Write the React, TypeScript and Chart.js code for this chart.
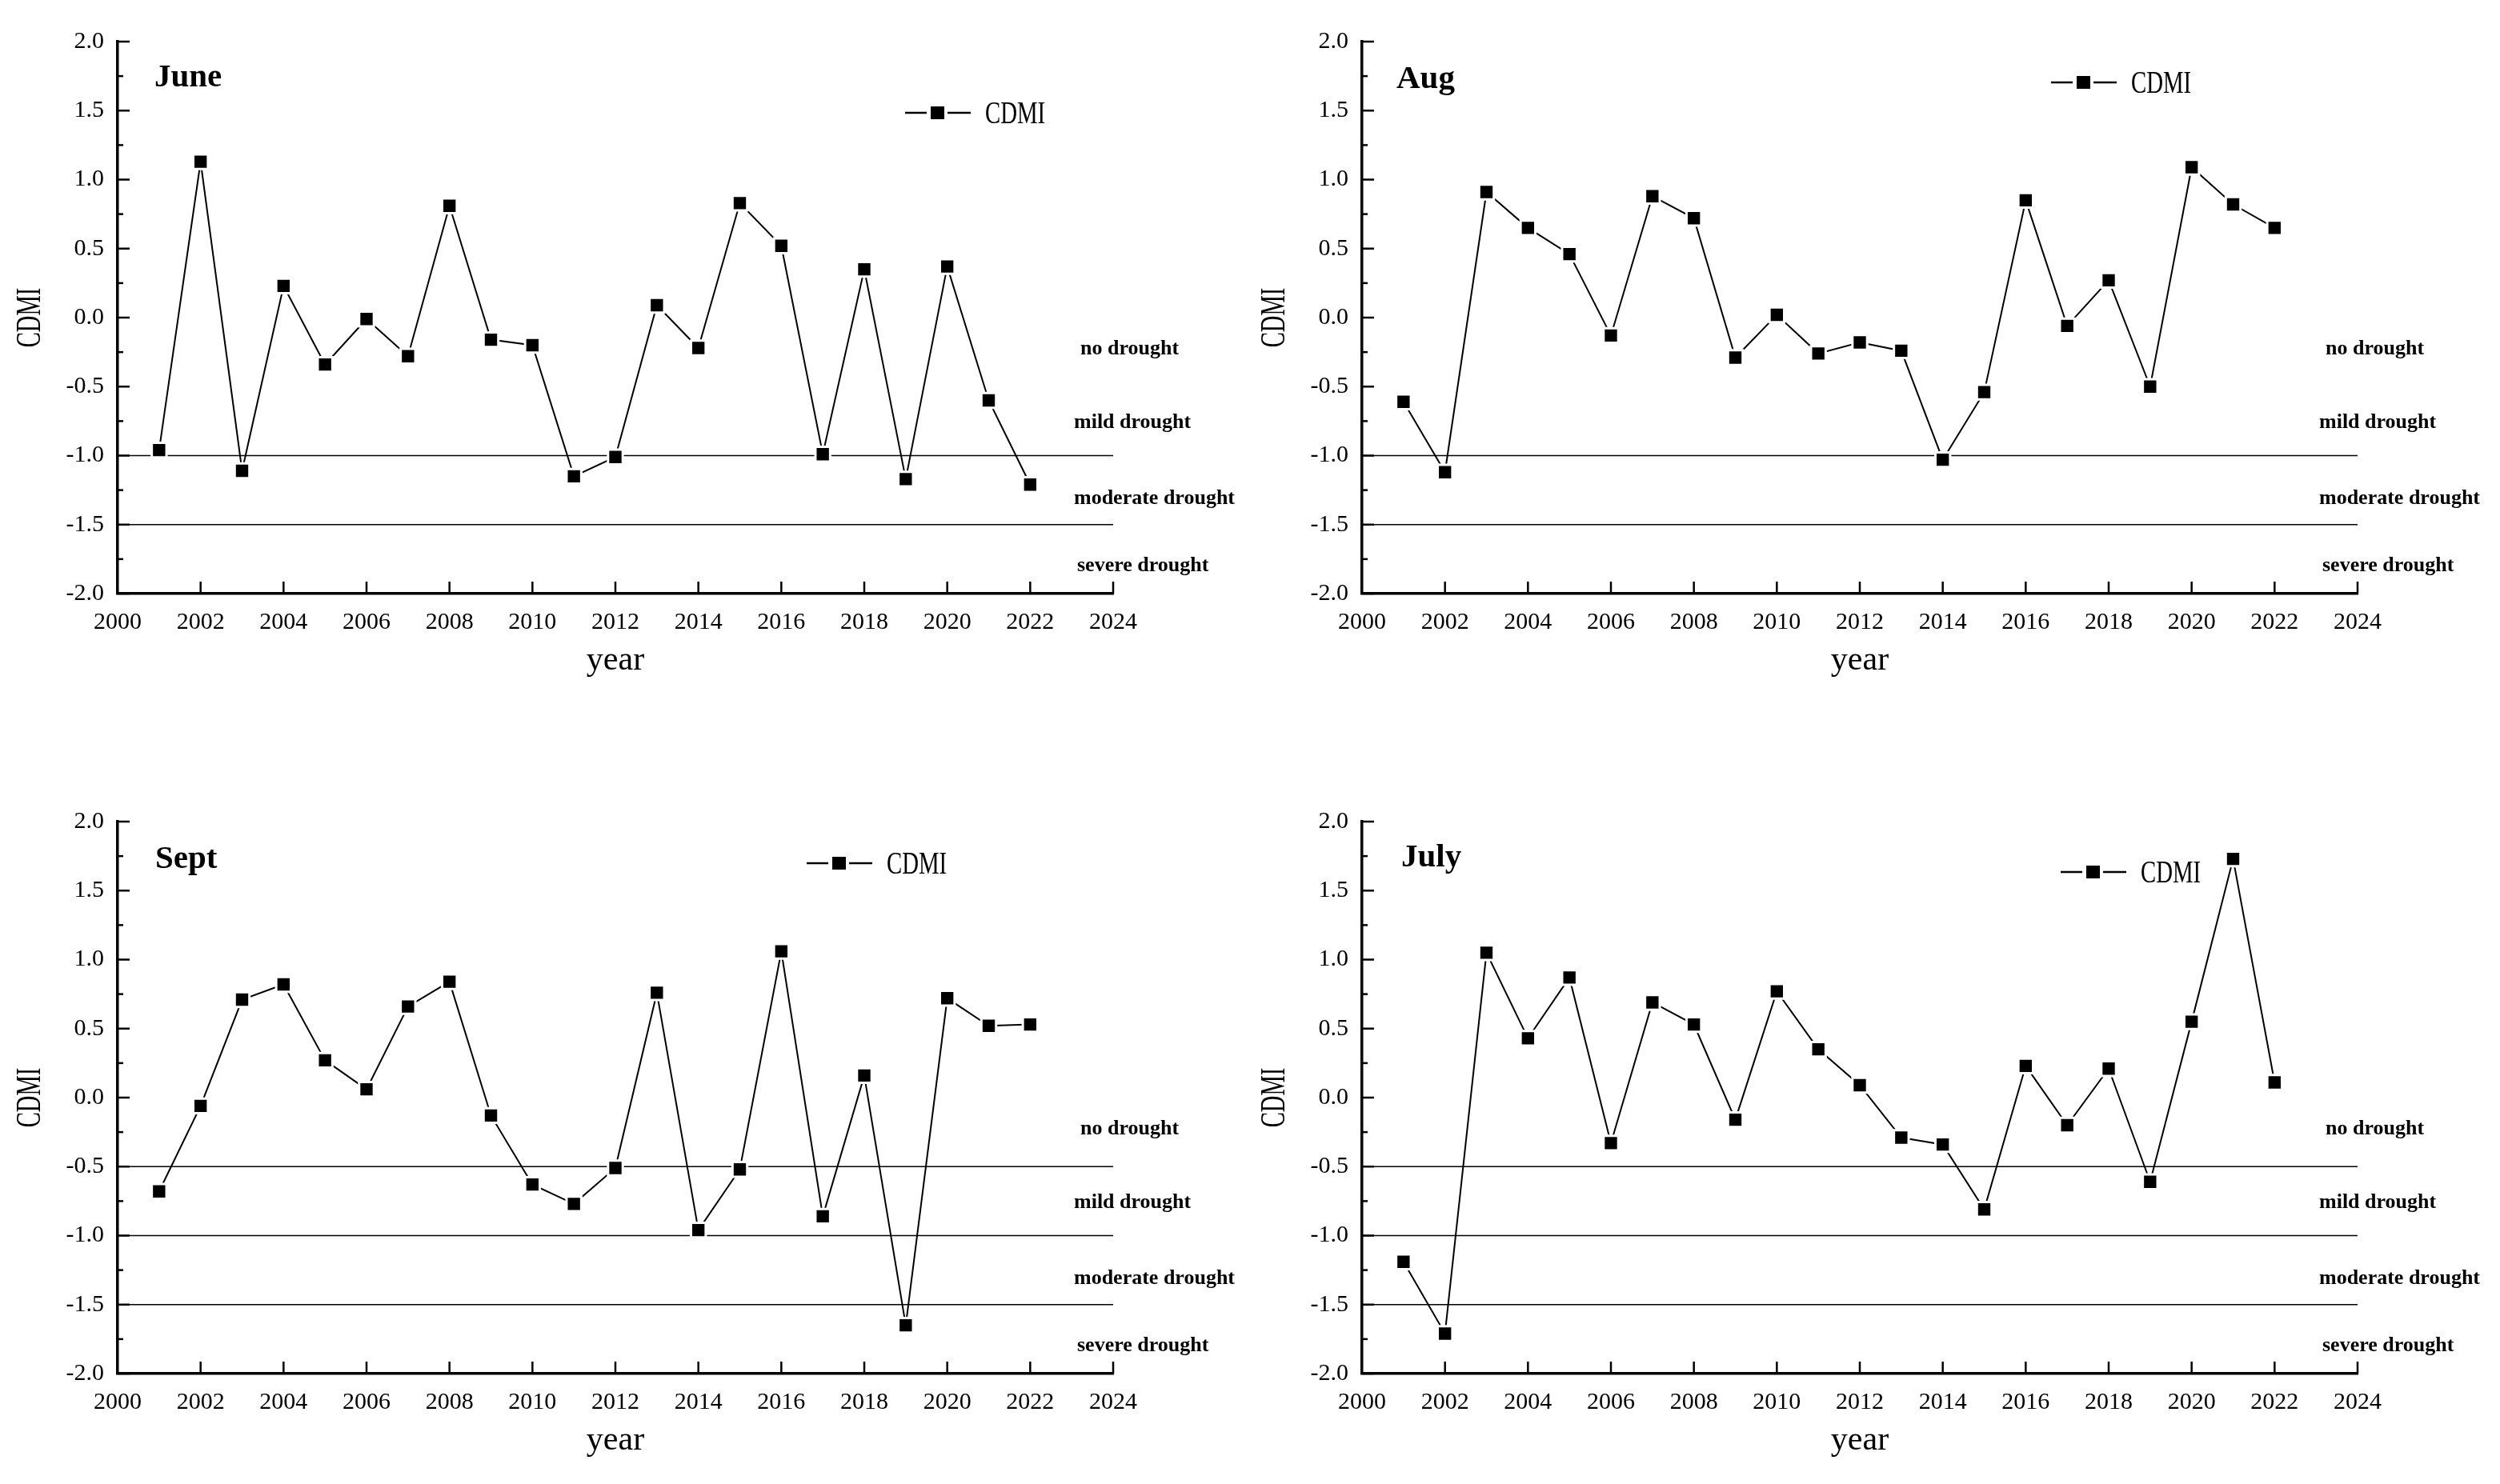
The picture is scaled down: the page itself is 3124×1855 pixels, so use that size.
import React, { useEffect, useRef } from 'react';
import Chart from 'chart.js/auto';

// ---------- data ----------
const years = [2001, 2002, 2003, 2004, 2005, 2006, 2007, 2008, 2009, 2010, 2011, 2012, 2013, 2014, 2015, 2016, 2017, 2018, 2019, 2020, 2021, 2022];
const juneCDMI = [-0.96, 1.13, -1.11, 0.23, -0.34, -0.01, -0.28, 0.81, -0.16, -0.20, -1.15, -1.01, 0.09, -0.22, 0.83, 0.52, -0.99, 0.35, -1.17, 0.37, -0.60, -1.21];
const augCDMI = [-0.61, -1.12, 0.91, 0.65, 0.46, -0.13, 0.88, 0.72, -0.29, 0.02, -0.26, -0.18, -0.24, -1.03, -0.54, 0.85, -0.06, 0.27, -0.50, 1.09, 0.82, 0.65];
const septCDMI = [-0.68, -0.06, 0.71, 0.82, 0.27, 0.06, 0.66, 0.84, -0.13, -0.63, -0.77, -0.51, 0.76, -0.96, -0.52, 1.06, -0.86, 0.16, -1.65, 0.72, 0.52, 0.53];
const julyCDMI = [-1.19, -1.71, 1.05, 0.43, 0.87, -0.33, 0.69, 0.53, -0.16, 0.77, 0.35, 0.09, -0.29, -0.34, -0.81, 0.23, -0.20, 0.21, -0.61, 0.55, 1.73, 0.11];

const xMin = 2000;
const xMax = 2024;
const xStep = 2;
const yMin = -2.0;
const yMax = 2.0;
const yStep = 0.5;

const seriesName = 'CDMI';
const xTitle = 'year';
const yTitle = 'CDMI';
const droughtLabels = ['no drought', 'mild drought', 'moderate drought', 'severe drought'];
const droughtLabelValues = [-0.23, -0.76, -1.31, -1.80];
const refLinesTop = [-1.0, -1.5];
const refLinesBottom = [-0.5, -1.0, -1.5];

// ---------- layout / style ----------
const CHART_LEFT = 147;
const CHART_TOP = 52;
const CHART_RIGHT = 1391;
const CHART_BOTTOM = 742;
const SERIF = '"Liberation Serif", "Times New Roman", serif';

type PanelDef = {
  title: string;
  values: number[];
  refLines: number[];
  left: number;
  top: number;
  width: number;
  height: number;
  titleOff: [number, number];
  legendOff: [number, number];
  labelDx: number;
};

const panels: PanelDef[] = [
  { title: 'June', values: juneCDMI, refLines: refLinesTop, left: 0, top: 0, width: 1555, height: 975, titleOff: [46, 56], legendOff: [984, 89], labelDx: -41 },
  { title: 'Aug', values: augCDMI, refLines: refLinesTop, left: 1555, top: 0, width: 1569, height: 975, titleOff: [43, 58], legendOff: [861, 51], labelDx: -40 },
  { title: 'Sept', values: septCDMI, refLines: refLinesBottom, left: 0, top: 975, width: 1555, height: 880, titleOff: [47, 58], legendOff: [861, 52], labelDx: -41 },
  { title: 'July', values: julyCDMI, refLines: refLinesBottom, left: 1555, top: 975, width: 1569, height: 880, titleOff: [49, 56], legendOff: [873, 63], labelDx: -40 },
];

function drawText(
  ctx: CanvasRenderingContext2D,
  text: string,
  x: number,
  y: number,
  font: string,
  align: CanvasTextAlign,
  baseline: CanvasTextBaseline,
  sx = 1,
  rot = 0
) {
  ctx.save();
  ctx.translate(x, y);
  if (rot) ctx.rotate(rot);
  ctx.scale(sx, 1);
  ctx.font = font;
  ctx.fillStyle = '#000';
  ctx.textAlign = align;
  ctx.textBaseline = baseline;
  ctx.fillText(text, 0, 0);
  ctx.restore();
}

const decorPlugin = {
  id: 'decor',
  beforeDatasetsDraw(chart: any, _args: any, opts: any) {
    const { ctx, chartArea, scales } = chart;
    const ys = scales.y;
    ctx.save();
    ctx.strokeStyle = '#000';
    ctx.lineWidth = 1.5;
    for (const v of opts.refLines as number[]) {
      const py = ys.getPixelForValue(v);
      ctx.beginPath();
      ctx.moveTo(chartArea.left, py);
      ctx.lineTo(chartArea.right, py);
      ctx.stroke();
    }
    ctx.restore();
  },
  afterDraw(chart: any, _args: any, opts: any) {
    const { ctx, chartArea, scales } = chart;
    const xs = scales.x;
    const ys = scales.y;
    const L = chartArea.left;
    const B = chartArea.bottom;
    ctx.save();
    ctx.strokeStyle = '#000';
    ctx.lineWidth = 2.5;
    // inward y ticks (major + minor)
    for (const t of ys.ticks) {
      const py = ys.getPixelForValue(t.value);
      ctx.beginPath();
      ctx.moveTo(L, py);
      ctx.lineTo(L + 15, py);
      ctx.stroke();
      const mid = t.value + yStep / 2;
      if (mid < yMax) {
        const pm = ys.getPixelForValue(mid);
        ctx.beginPath();
        ctx.moveTo(L, pm);
        ctx.lineTo(L + 7, pm);
        ctx.stroke();
      }
    }
    // inward x ticks
    for (const t of xs.ticks) {
      if (t.value === xMin) continue;
      const px = xs.getPixelForValue(t.value);
      ctx.beginPath();
      ctx.moveTo(px, B);
      ctx.lineTo(px, B - 15);
      ctx.stroke();
    }
    ctx.restore();

    // panel title
    drawText(ctx, opts.title, L + opts.titleOff[0], chartArea.top + opts.titleOff[1], `bold 41px ${SERIF}`, 'left', 'alphabetic');

    // legend
    const lx = L + opts.legendOff[0];
    const ly = chartArea.top + opts.legendOff[1];
    ctx.save();
    ctx.strokeStyle = '#000';
    ctx.lineWidth = 2.5;
    ctx.beginPath();
    ctx.moveTo(lx, ly);
    ctx.lineTo(lx + 27, ly);
    ctx.moveTo(lx + 53, ly);
    ctx.lineTo(lx + 82, ly);
    ctx.stroke();
    ctx.fillStyle = '#000';
    ctx.fillRect(lx + 32, ly - 8, 17, 16);
    ctx.restore();
    drawText(ctx, seriesName, lx + 100, ly + 13, `40px ${SERIF}`, 'left', 'alphabetic', 0.72);

    // drought class labels
    const offs = [0, -8, -8, -4];
    droughtLabels.forEach((s, i) => {
      drawText(ctx, s, chartArea.right + opts.labelDx + offs[i], ys.getPixelForValue(droughtLabelValues[i]), `bold 26px ${SERIF}`, 'left', 'middle');
    });

    // axis titles
    drawText(ctx, xTitle, (chartArea.left + chartArea.right) / 2, B + 95, `42px ${SERIF}`, 'center', 'alphabetic');
    drawText(ctx, yTitle, L - 109, (chartArea.top + B) / 2, `44px ${SERIF}`, 'center', 'middle', 0.65, -Math.PI / 2);
  },
};

function Panel({ p }: { p: PanelDef }) {
  const ref = useRef<HTMLCanvasElement | null>(null);
  useEffect(() => {
    if (!ref.current) return;
    const chart = new Chart(ref.current, {
      type: 'line',
      data: {
        datasets: [
          {
            label: seriesName,
            data: years.map((yr, i) => ({ x: yr, y: p.values[i] })),
            borderColor: '#000',
            borderWidth: 2,
            pointStyle: 'rect',
            pointRadius: 13,
            pointBackgroundColor: '#000',
            pointBorderColor: '#fff',
            pointBorderWidth: 3,
            tension: 0,
            fill: false,
          },
        ],
      },
      options: {
        animation: false,
        responsive: false,
        devicePixelRatio: 1,
        events: [],
        layout: { padding: { left: 0, top: CHART_TOP, right: p.width - CHART_RIGHT, bottom: 0 } },
        plugins: {
          legend: { display: false },
          tooltip: { enabled: false },
          decor: {
            title: p.title,
            refLines: p.refLines,
            titleOff: p.titleOff,
            legendOff: p.legendOff,
            labelDx: p.labelDx,
          },
        } as any,
        scales: {
          x: {
            type: 'linear',
            min: xMin,
            max: xMax,
            grid: { display: false, drawTicks: false },
            border: { display: true, color: '#000', width: 3.5 },
            ticks: {
              stepSize: xStep,
              autoSkip: false,
              maxRotation: 0,
              padding: 18,
              color: '#000',
              font: { family: SERIF, size: 30 },
              callback: (v: any) => String(v),
            },
            afterFit: (s: any) => {
              s.height = p.height - CHART_BOTTOM;
            },
          },
          y: {
            type: 'linear',
            min: yMin,
            max: yMax,
            grid: { display: false, drawTicks: false },
            border: { display: true, color: '#000', width: 3.5 },
            ticks: {
              stepSize: yStep,
              padding: 17,
              color: '#000',
              font: { family: SERIF, size: 30 },
              callback: (v: any) => Number(v).toFixed(1),
            },
            afterFit: (s: any) => {
              s.width = CHART_LEFT;
            },
          },
        },
      },
      plugins: [decorPlugin],
    });
    return () => chart.destroy();
  }, [p]);
  return (
    <canvas
      ref={ref}
      width={p.width}
      height={p.height}
      style={{ position: 'absolute', left: p.left, top: p.top, width: p.width, height: p.height }}
    />
  );
}

export default function App() {
  return (
    <div style={{ position: 'absolute', left: 0, top: 0, width: 3124, height: 1855, background: '#fff', overflow: 'hidden' }}>
      {panels.map((p) => (
        <Panel key={p.title} p={p} />
      ))}
    </div>
  );
}
